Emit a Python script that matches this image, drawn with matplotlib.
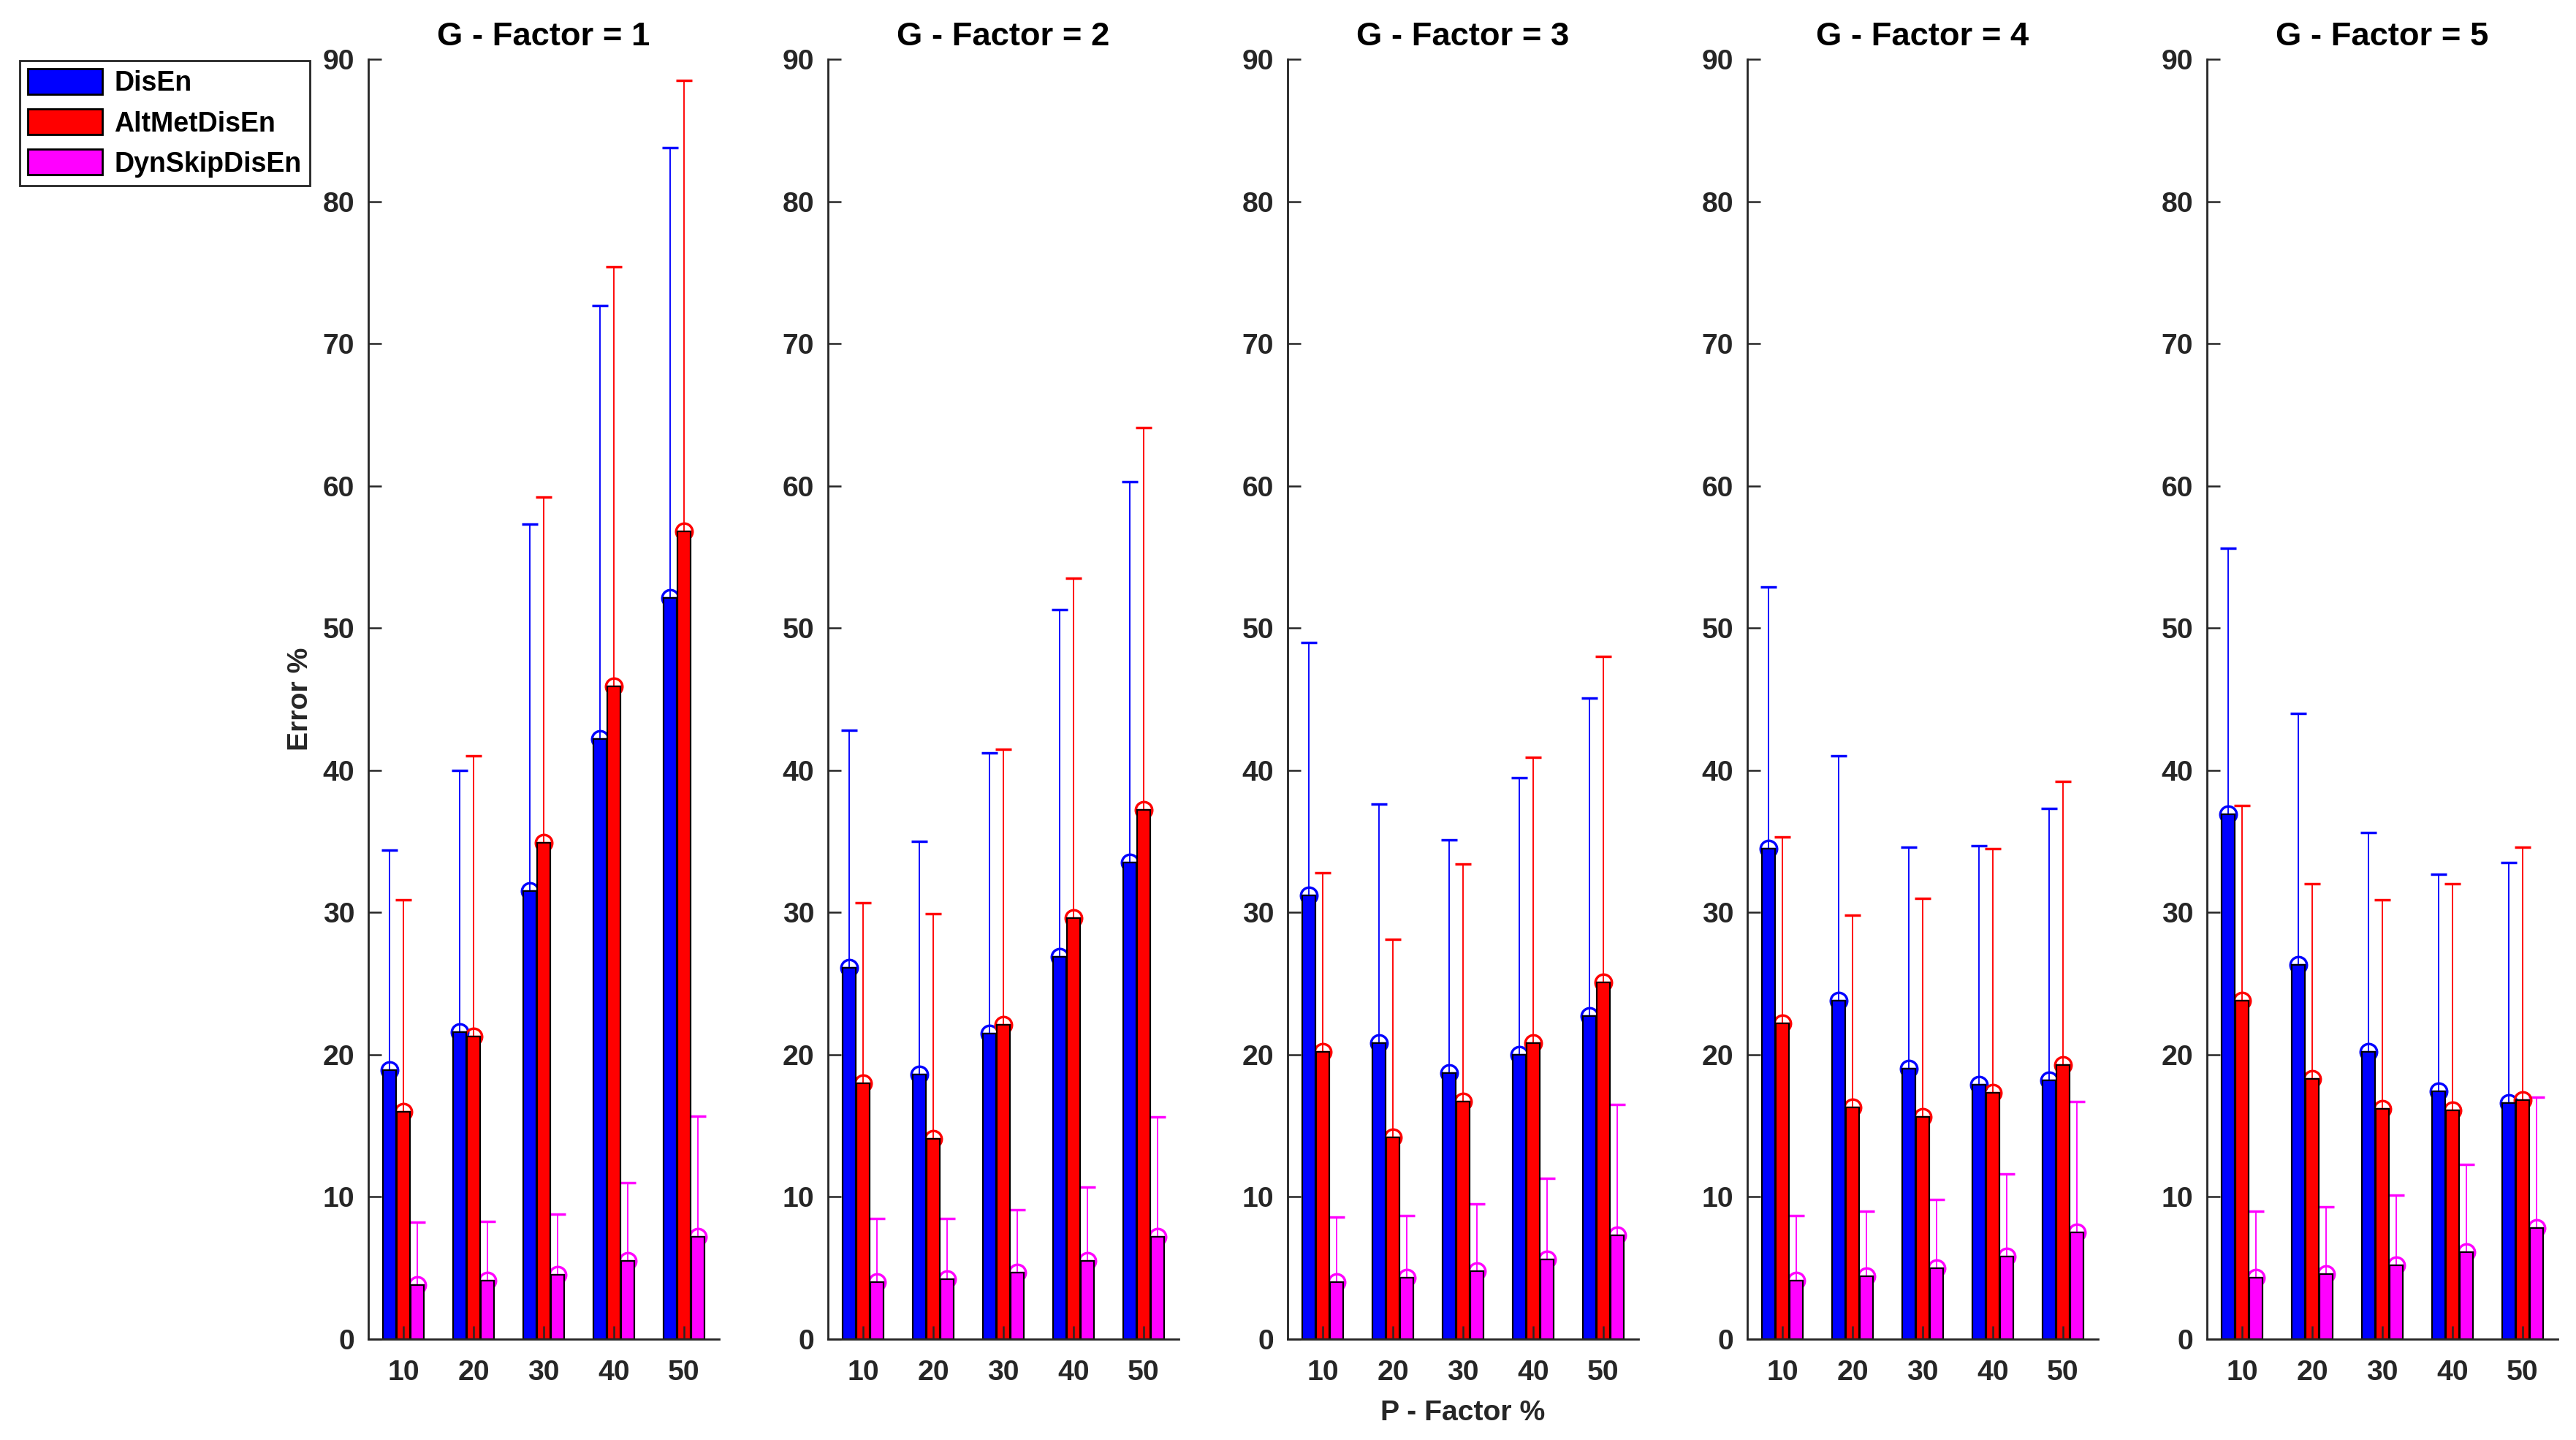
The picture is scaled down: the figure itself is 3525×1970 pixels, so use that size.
#Errores por G-Factor y P-Factor

import matplotlib
matplotlib.use("Agg")
import matplotlib.pyplot as plt
import numpy as np
from matplotlib.patches import Patch

#Datos

p_factor = [10, 20, 30, 40, 50]
g_factor = [1, 2, 3, 4, 5]
metodos = ["DisEn", "AltMetDisEn", "DynSkipDisEn"]
colores = ["#0000ff", "#ff0000", "#ff00ff"]

#medias (una fila por G-Factor)
disen_media = [[18.9, 21.6, 31.5, 42.2, 52.1],
               [26.1, 18.6, 21.5, 26.9, 33.5],
               [31.2, 20.8, 18.7, 20.0, 22.7],
               [34.5, 23.8, 19.0, 17.9, 18.2],
               [36.9, 26.3, 20.2, 17.4, 16.6]]
altmet_media = [[16.0, 21.3, 34.9, 45.9, 56.8],
                [18.0, 14.1, 22.1, 29.6, 37.2],
                [20.2, 14.2, 16.7, 20.8, 25.1],
                [22.2, 16.3, 15.6, 17.3, 19.3],
                [23.8, 18.3, 16.2, 16.1, 16.8]]
dynskip_media = [[3.8, 4.1, 4.5, 5.5, 7.2],
                 [4.0, 4.2, 4.7, 5.5, 7.2],
                 [4.0, 4.3, 4.8, 5.6, 7.3],
                 [4.1, 4.4, 5.0, 5.8, 7.5],
                 [4.3, 4.6, 5.2, 6.1, 7.8]]

#extremo superior de la barra de error
disen_sup = [[34.4, 40.0, 57.3, 72.7, 83.8],
             [42.8, 35.0, 41.2, 51.3, 60.3],
             [49.0, 37.6, 35.1, 39.5, 45.1],
             [52.9, 41.0, 34.6, 34.7, 37.3],
             [55.6, 44.0, 35.6, 32.7, 33.5]]
altmet_sup = [[30.9, 41.0, 59.2, 75.4, 88.5],
              [30.7, 29.9, 41.5, 53.5, 64.1],
              [32.8, 28.1, 33.4, 40.9, 48.0],
              [35.3, 29.8, 31.0, 34.5, 39.2],
              [37.5, 32.0, 30.9, 32.0, 34.6]]
dynskip_sup = [[8.2, 8.3, 8.8, 11.0, 15.7],
               [8.5, 8.5, 9.1, 10.7, 15.6],
               [8.6, 8.7, 9.5, 11.3, 16.5],
               [8.7, 9.0, 9.8, 11.6, 16.7],
               [9.0, 9.3, 10.1, 12.3, 17.0]]

medias = [disen_media, altmet_media, dynskip_media]
superiores = [disen_sup, altmet_sup, dynskip_sup]

#Estilo

plt.rcParams['font.family'] = ['Liberation Sans', 'DejaVu Sans']
plt.rcParams['font.weight'] = 'bold'
plt.rcParams['axes.labelweight'] = 'bold'
plt.rcParams['axes.titleweight'] = 'bold'
gris = '#262626'

W, H = 3525, 1970
fig = plt.figure(figsize=(W / 225, H / 225), dpi=225)

x = np.array(p_factor, dtype=float)
ancho = 1.9
desp = [-2.0, 0.0, 2.0]

ejes = []
for g in range(5):
    izq = (504 + 629 * g) / W
    ax = fig.add_axes([izq, 1 - 1832 / H, 480 / W, (1832 - 81) / H])
    ejes.append(ax)
    for m in range(3):
        med = np.array(medias[m][g])
        sup = np.array(superiores[m][g])
        err = np.vstack([np.zeros_like(med), sup - med])
        ax.errorbar(x + desp[m], med, yerr=err, fmt='o', color=colores[m],
                    mfc='none', mec=colores[m], ms=7.2, mew=1.1,
                    elinewidth=0.6, capsize=3.4, capthick=0.75, zorder=1)
        ax.bar(x + desp[m], med, width=ancho, color=colores[m],
               edgecolor='black', linewidth=0.7, zorder=2)
    ax.set_xlim(5, 55)
    ax.set_ylim(0, 90)
    ax.set_xticks(p_factor)
    ax.set_yticks(np.arange(0, 91, 10))
    ax.tick_params(direction='in', length=5.8, width=0.8, colors=gris,
                   labelsize=12.5, pad=6)
    ax.tick_params(axis='x', pad=9)
    for s in ['top', 'right']:
        ax.spines[s].set_visible(False)
    for s in ['left', 'bottom']:
        ax.spines[s].set_color(gris)
        ax.spines[s].set_linewidth(0.9)
    ax.set_title("G - Factor = %d" % g_factor[g], fontsize=14.5, pad=6)
    ax.set_axisbelow(False)

ejes[0].set_ylabel("Error %", fontsize=12.5, color=gris, labelpad=4)
ejes[2].set_xlabel("P - Factor %", fontsize=12.5, color=gris, labelpad=6)

handles = [Patch(facecolor=c, edgecolor='black', linewidth=0.9) for c in colores]
leg = fig.legend(handles, metodos, loc='upper left',
                 bbox_to_anchor=(27 / W, 1 - 83 / H), fontsize=12,
                 frameon=True, fancybox=False, framealpha=1,
                 handlelength=2.7, handleheight=1.05, labelspacing=0.45,
                 handletextpad=0.45, borderpad=0.3, borderaxespad=0)
leg.get_frame().set_edgecolor(gris)
leg.get_frame().set_linewidth(0.9)

fig.savefig("out.png", dpi=225)
